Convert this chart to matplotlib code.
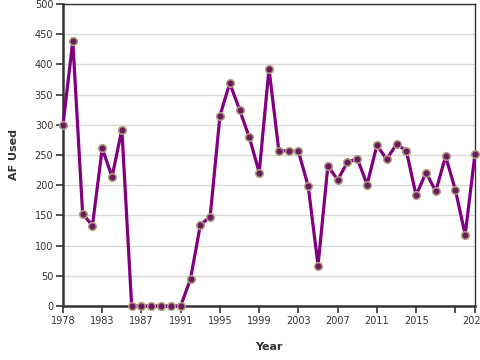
import matplotlib
matplotlib.use("Agg")
import matplotlib.pyplot as plt

# Years on a point scale (1979 is absent from the record)
years = [1978, 1980, 1981, 1982, 1983, 1984, 1985, 1986, 1987, 1988,
         1989, 1990, 1991, 1992, 1993, 1994, 1995, 1996, 1997, 1998,
         1999, 2000, 2001, 2002, 2003, 2004, 2005, 2006, 2007, 2008,
         2009, 2010, 2011, 2012, 2013, 2014, 2015, 2016, 2017, 2018,
         2019, 2020, 2021]
af_used = [300, 439, 153, 133, 261, 214, 292, 0, 0, 0,
           0, 0, 0, 45, 134, 148, 315, 369, 325, 279,
           221, 393, 257, 257, 256, 198, 67, 232, 209, 238,
           244, 201, 266, 243, 268, 257, 183, 221, 190, 248,
           192, 118, 252]
tick_years = [1978, 1983, 1987, 1991, 1995, 1999, 2003, 2007, 2011, 2015, 2019, 2021]
y_ticks = [0, 50, 100, 150, 200, 250, 300, 350, 400, 450, 500]

dark = "#333333"

fig = plt.figure(figsize=(4.8, 3.6), dpi=100)
ax = fig.add_axes([63 / 480, 1 - 306 / 360, 412 / 480, 302 / 360])

xs = list(range(len(years)))
ax.plot(xs, af_used, color="#800080", linewidth=2.3, marker="o",
        markersize=5.5, markerfacecolor="#6b1a5f", markeredgecolor="#b0a27e",
        markeredgewidth=1.1, clip_on=False, zorder=5)

ax.set_xlim(0, len(years) - 1)
ax.set_ylim(0, 500)

tick_pos = [years.index(y) for y in tick_years]
tick_lab = [str(y) if y != 2019 else "" for y in tick_years]
ax.set_xticks(tick_pos)
ax.set_xticklabels(tick_lab)
ax.set_yticks(y_ticks)

ax.grid(axis="y", color="#d9d9d9", linewidth=1)
ax.set_axisbelow(True)

for side in ["left", "bottom"]:
    ax.spines[side].set_color(dark)
    ax.spines[side].set_linewidth(1.8)
for side in ["top", "right"]:
    ax.spines[side].set_color(dark)
    ax.spines[side].set_linewidth(1.0)

ax.tick_params(axis="both", colors=dark, labelsize=7, length=5, width=1.2, pad=2)

ax.set_xlabel("Year", fontsize=8, fontweight="bold", color=dark, labelpad=12)
ax.set_ylabel("AF Used", fontsize=8, fontweight="bold", color=dark, labelpad=11)

fig.savefig("out.png", dpi=100)
